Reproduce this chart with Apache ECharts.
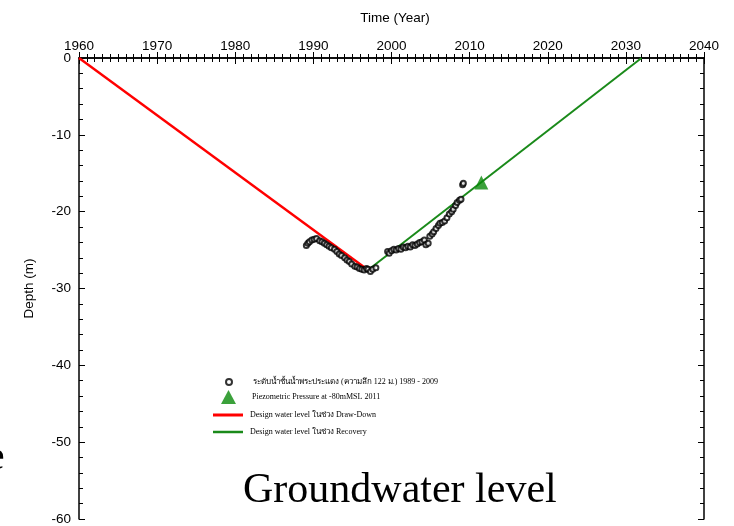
<!DOCTYPE html>
<html><head><meta charset="utf-8">
<script src="https://cdn.jsdelivr.net/npm/echarts@6/dist/echarts.min.js"></script>
<style>html,body{margin:0;padding:0;background:#fff}#c{width:734px;height:526px}</style>
</head><body><div id="c"></div>
<script>
const xTicks = [1960, 1970, 1980, 1990, 2000, 2010, 2020, 2030, 2040];
const yTicks = [0, -10, -20, -30, -40, -50, -60];
const obsYears = [1989.1,1989.3,1989.5,1989.8,1990.1,1990.4,1990.8,1991.1,1991.4,1991.7,1992.0,1992.3,1992.7,1993.0,1993.3,1993.6,1994.0,1994.3,1994.6,1994.9,1995.3,1995.6,1995.9,1996.2,1996.5,1996.8,1997.0,1997.3,1997.6,1998.0,
  1999.5,1999.7,2000.0,2000.3,2000.6,2000.9,2001.2,2001.5,2001.8,2002.1,2002.4,2002.7,2003.0,2003.3,2003.6,2003.9,2004.2,2004.4,2004.7,2004.9,2005.2,2005.4,2005.7,2006.0,2006.2,2006.5,2006.8,2007.1,2007.4,2007.7,2007.9,2008.2,2008.4,2008.7,2008.9,2009.1,2009.2];
const obsDepth = [-24.4,-24.1,-23.9,-23.7,-23.6,-23.5,-23.8,-23.9,-24.1,-24.3,-24.5,-24.7,-24.9,-25.2,-25.5,-25.7,-26.0,-26.3,-26.5,-26.8,-27.1,-27.2,-27.4,-27.5,-27.6,-27.4,-27.5,-27.8,-27.5,-27.3,
  -25.2,-25.4,-25.1,-24.9,-25.0,-24.8,-24.9,-24.6,-24.7,-24.5,-24.6,-24.3,-24.4,-24.2,-24.0,-23.9,-23.7,-24.3,-24.1,-23.2,-22.9,-22.6,-22.2,-21.8,-21.5,-21.4,-21.2,-20.8,-20.3,-20.0,-19.7,-19.2,-18.8,-18.5,-18.4,-16.5,-16.3];
const piezoPoint = [2011.5, -16.2];
const drawDown = [[1960, 0], [1997, -27.6]];
const recovery = [[1997, -27.6], [2032, 0]];
const names = ['ระดับน้ำชั้นน้ำพระประแดง (ความลึก 122 ม.) 1989 - 2009', 'Piezometric Pressure at -80mMSL 2011', 'Design water level ในช่วง Draw-Down', 'Design water level ในช่วง Recovery'];

const chart = echarts.init(document.getElementById('c'), null, {renderer: 'canvas'});
const axisLine = {show: true, lineStyle: {color: '#000', width: 1.5}};
const lblFont = {color: '#000', fontFamily: 'Liberation Sans, Arial', fontSize: 13.5};
const legTxt = {fontFamily: 'Liberation Serif, serif', fontSize: 8, color: '#000'};
function leg(name, left, top, w, h, icon, gap) {
  return {orient: 'vertical', left: left, top: top, itemWidth: w, itemHeight: h, itemGap: 0, padding: 0,
    icon: icon, data: [name], textStyle: Object.assign({padding: [0, 0, 0, gap]}, legTxt), selectedMode: false};
}
chart.setOption({
  animation: false,
  backgroundColor: '#fff',
  grid: {left: 79, right: 30, top: 58, bottom: 2, containLabel: false},
  title: {text: 'Time (Year)', left: 390, top: 6, textAlign: 'center', textStyle: {fontFamily: 'Liberation Sans, Arial', fontSize: 13.5, fontWeight: 'normal', color: '#000'}},
  graphic: [
    {type: 'text', left: 243, top: 470, style: {text: 'Groundwater level', font: '42px "Liberation Serif", "Times New Roman", serif', fill: '#000'}},
    {type: 'text', left: -14, top: 437, style: {text: 'e', font: '42px "Liberation Serif", serif', fill: '#000'}}
  ],
  legend: [
    leg(names[0], 225, 378, 6, 6, 'emptyCircle', 16),
    leg(names[1], 221, 390, 15, 14, 'triangle', 11),
    leg(names[2], 213, 411, 30, 3, 'rect', 2),
    leg(names[3], 213, 428, 30, 2.5, 'rect', 2)
  ],
  xAxis: [
    {type: 'value', position: 'top', min: xTicks[0], max: xTicks[xTicks.length - 1], interval: 10,
     axisLine: axisLine, axisTick: {inside: true, length: 6, lineStyle: {color: '#000', width: 1}},
     minorTick: {show: true, splitNumber: 10, length: 4, lineStyle: {color: '#000'}},
     axisLabel: Object.assign({margin: 5, formatter: v => xTicks.includes(v) ? String(v) : ''}, lblFont),
     splitLine: {show: false}},
    {type: 'value', position: 'bottom', min: xTicks[0], max: xTicks[xTicks.length - 1], interval: 10,
     axisLine: axisLine, axisTick: {inside: true, length: 6, lineStyle: {color: '#000'}},
     minorTick: {show: true, splitNumber: 10, length: 4, lineStyle: {color: '#000'}},
     axisLabel: {show: false}, splitLine: {show: false}}
  ],
  yAxis: [
    {type: 'value', min: -60, max: 0, interval: 10, name: 'Depth (m)', nameLocation: 'middle', nameGap: 43,
     nameTextStyle: {fontFamily: 'Liberation Sans, Arial', fontSize: 13.5, color: '#000'},
     axisLine: axisLine, axisTick: {inside: true, length: 6, lineStyle: {color: '#000'}},
     minorTick: {show: true, splitNumber: 5, length: 4, lineStyle: {color: '#000'}},
     axisLabel: Object.assign({margin: 8, formatter: v => yTicks.includes(v) ? String(v) : ''}, lblFont),
     splitLine: {show: false}},
    {type: 'value', position: 'right', min: -60, max: 0, interval: 10,
     axisLine: axisLine, axisTick: {inside: true, length: 6, lineStyle: {color: '#000'}},
     minorTick: {show: true, splitNumber: 5, length: 4, lineStyle: {color: '#000'}},
     axisLabel: {show: false}, splitLine: {show: false}}
  ],
  series: [
    {name: names[2], type: 'line', data: drawDown, showSymbol: false, symbol: 'none', color: '#ff0000', lineStyle: {color: '#ff0000', width: 2.4}, z: 2},
    {name: names[3], type: 'line', data: recovery, showSymbol: false, symbol: 'none', color: '#1a8a1a', lineStyle: {color: '#1a8a1a', width: 2}, z: 2},
    {name: names[0], type: 'scatter', data: obsYears.map((y, i) => [y, obsDepth[i]]), symbol: 'emptyCircle', symbolSize: 5,
     itemStyle: {color: '#000', borderWidth: 1}, z: 3},
    {name: names[1], type: 'scatter', data: [piezoPoint], symbol: 'triangle', symbolSize: 14, itemStyle: {color: '#0a8a0a'}, z: 4}
  ]
});
</script></body></html>
